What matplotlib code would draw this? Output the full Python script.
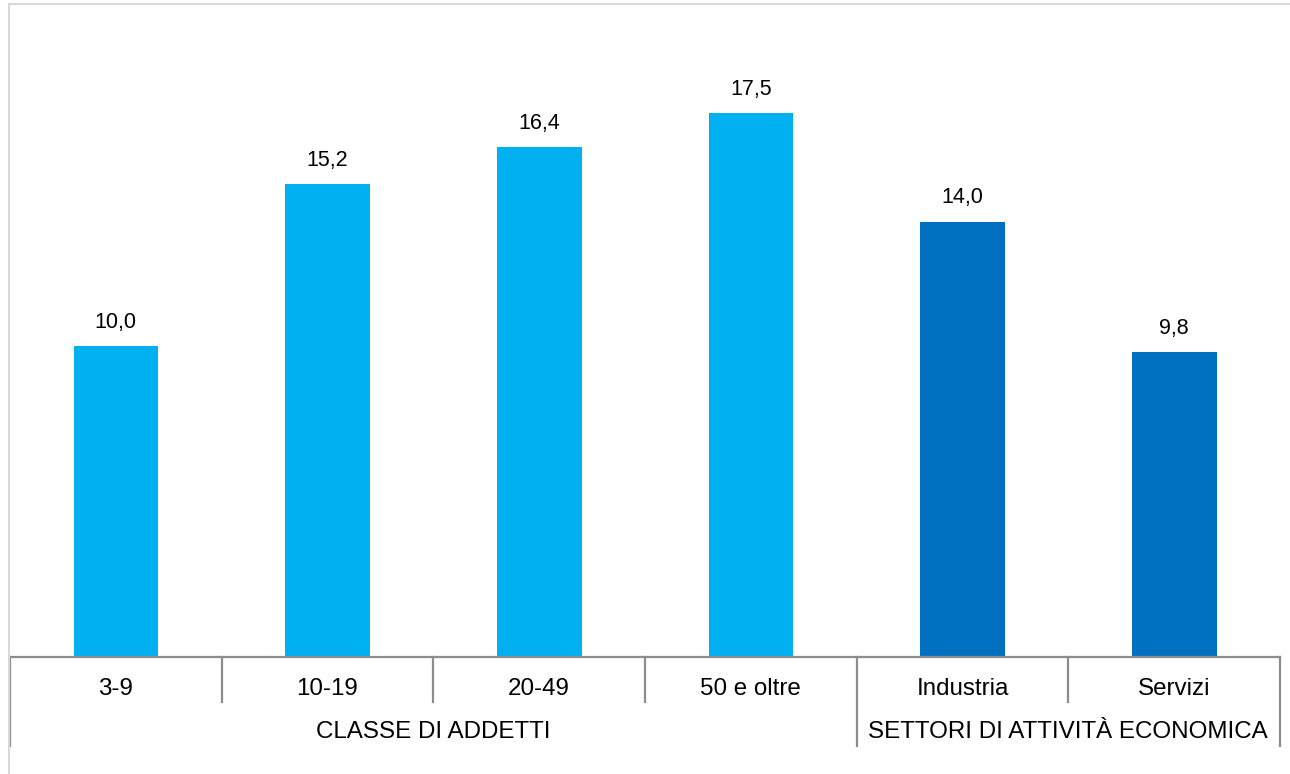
import matplotlib.pyplot as plt
from matplotlib.transforms import blended_transform_factory
from matplotlib.patches import Rectangle

plt.rcParams["font.family"] = ["Liberation Sans", "DejaVu Sans"]

categories = ["3-9", "10-19", "20-49", "50 e oltre", "Industria", "Servizi"]
values = [10.0, 15.2, 16.4, 17.5, 14.0, 9.8]
groups = ["CLASSE DI ADDETTI", "SETTORI DI ATTIVITÀ ECONOMICA"]
group_sizes = [4, 2]
group_colors = ["#00B0F0", "#0070C0"]

W, H = 1290, 774
fig = plt.figure(figsize=(W / 100, H / 100), dpi=100)
ax = fig.add_axes([10 / W, 1 - 657 / H, 1270 / W, 622 / H])

# bar colours follow the group each category belongs to
colors = []
for g, n in enumerate(group_sizes):
    colors += [group_colors[g]] * n

x = list(range(len(categories)))
ax.bar(x, values, width=0.4, color=colors, zorder=2)
for xi, v in zip(x, values):
    ax.annotate(f"{v:.1f}".replace(".", ","), (xi, v), xytext=(0, 17),
                textcoords="offset points", ha="center", va="center",
                fontsize=15.5)

ax.set_xlim(-0.5, len(categories) - 0.5)
ax.set_ylim(0, 20)
ax.set_xticks([])
ax.set_yticks([])
for side in ("top", "right", "left"):
    ax.spines[side].set_visible(False)
ax.spines["bottom"].set_color("#8C8C8C")
ax.spines["bottom"].set_linewidth(1.6)

# two-level category axis drawn below the baseline
tr = blended_transform_factory(ax.transData, fig.transFigure)
y_base = 1 - 657 / H
y_inner = 1 - 702 / H
y_outer = 1 - 746 / H
line_kw = dict(color="#8C8C8C", lw=1.6, transform=tr, clip_on=False)

for xi, cat in zip(x, categories):
    ax.text(xi, 1 - 689 / H, cat, transform=tr, ha="center", va="center",
            fontsize=17.4)

start = 0
edges = [-0.5]
for g, n in enumerate(group_sizes):
    end = start + n
    for b in range(start + 1, end):
        ax.plot([b - 0.5, b - 0.5], [y_base, y_inner], **line_kw)
    ax.text((start + end - 1) / 2, 1 - 732 / H, groups[g], transform=tr,
            ha="center", va="center", fontsize=17.4)
    edges.append(end - 0.5)
    start = end
for e in edges:
    ax.plot([e, e], [y_base, y_outer], **line_kw)

# light outer frame of the chart area
fig.patches.append(Rectangle((9 / W, -0.05), 1.1, 1 - 4 / H + 0.05,
                             transform=fig.transFigure, fill=False,
                             edgecolor="#D9D9D9", lw=1.5))

fig.savefig("out.png", dpi=100)
